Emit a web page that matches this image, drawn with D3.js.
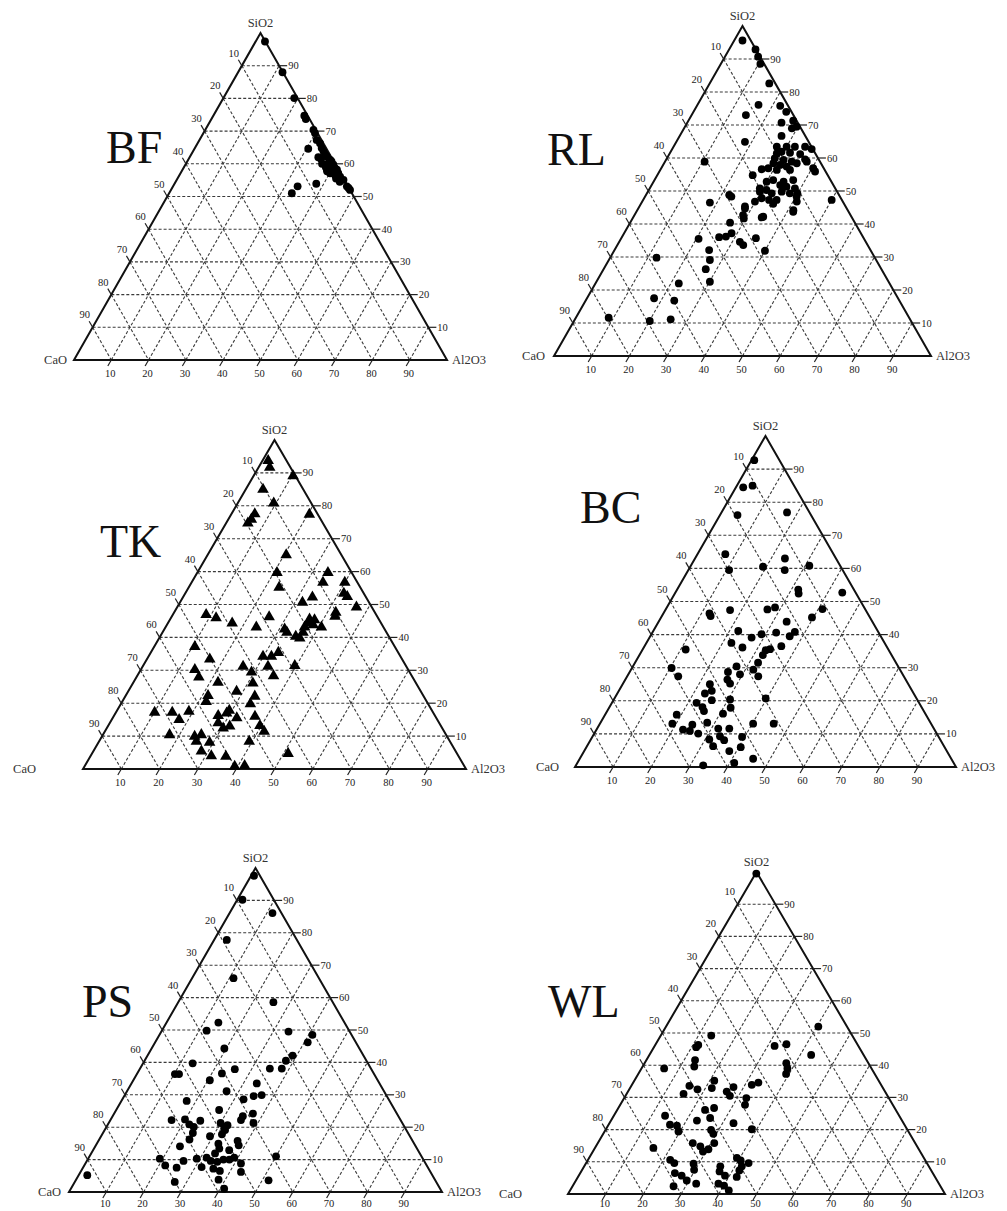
<!DOCTYPE html>
<html>
<head>
<meta charset="utf-8">
<script src="https://cdn.jsdelivr.net/npm/d3@7"></script>
<style>
body { margin: 0; background: #fff; }
svg { display: block; }
</style>
</head>
<body>
<svg width="1007" height="1211"></svg>
<script>
// each point is [SiO2, Al2O3] in %, CaO is the rest
const tickValues = [10, 20, 30, 40, 50, 60, 70, 80, 90];

const bfData = [[97.4,2.5],[88.0,11.9],[80.1,19.0],[74.7,24.4],[73.7,25.3],[70.4,29.0],[69.4,29.9],[67.3,31.4],[66.3,32.8],[64.8,34.0],[63.8,35.0],[62.8,35.9],[62.2,36.7],[61.2,38.1],[60.2,38.1],[60.7,38.7],[59.7,39.7],[59.2,39.5],[58.7,40.6],[58.2,39.1],[57.1,40.1],[57.7,39.0],[58.2,41.4],[57.1,42.3],[56.1,43.3],[55.1,44.7],[53.1,46.6],[52.0,48.0],[57.7,40.7],[56.6,41.7],[64.6,30.5],[53.9,38.0],[53.1,33.4],[51.0,32.9],[52.6,47.3],[61.5,35.5],[60.0,36.5],[59.0,38.0],[62.0,34.5],[58.5,38.5],[55.5,42.5],[54.5,44.0]];

const rlData = [[95.6,2.2],[92.9,7.0],[90.7,8.8],[88.5,10.5],[82.6,15.8],[76.1,16.2],[73.0,14.4],[75.8,22.1],[74.0,24.6],[70.7,25.0],[71.3,27.8],[69.0,28.6],[69.5,29.6],[64.9,18.2],[66.7,27.0],[58.9,10.5],[63.4,27.4],[63.4,30.0],[63.4,32.2],[63.4,34.9],[62.7,37.0],[61.4,28.4],[61.9,29.4],[61.6,31.8],[61.2,34.7],[59.6,36.8],[59.9,28.6],[59.4,31.2],[58.9,33.6],[58.4,35.2],[57.4,33.0],[57.9,31.0],[58.4,29.0],[56.9,28.4],[56.6,26.8],[54.8,25.3],[56.4,30.9],[56.4,34.4],[56.9,40.3],[55.9,41.3],[53.3,36.8],[52.8,34.5],[51.8,34.1],[53.3,31.5],[50.3,31.2],[49.8,29.7],[49.3,33.1],[49.8,35.5],[49.3,37.9],[46.8,41.0],[49.3,39.9],[47.3,50.0],[43.7,41.6],[46.8,29.9],[47.8,31.2],[47.3,33.4],[46.1,35.1],[45.3,28.0],[42.7,28.8],[41.7,29.5],[42.0,34.1],[48.8,22.1],[46.5,18.1],[40.4,26.5],[37.2,28.5],[36.2,27.5],[36.0,25.8],[34.6,32.0],[33.6,33.4],[35.5,20.6],[35.7,35.7],[31.9,40.0],[32.1,25.1],[29.1,26.8],[29.8,12.3],[26.3,27.1],[22.5,30.1],[22.0,22.1],[17.5,17.8],[16.8,23.5],[11.6,8.7],[10.6,20.1],[11.1,25.4],[58.9,37.6],[52.8,30.0],[50.8,29.2],[47.3,35.4],[44.2,41.4],[42.2,34.4],[44.7,28.3],[48.3,22.9],[48.3,40.2],[51.3,36.0],[50.8,38.5]];

const tkData = [[93.7,1.5],[91.7,2.9],[89.1,10.3],[85.0,4.5],[80.8,9.4],[77.5,6.1],[75.9,6.0],[74.7,5.7],[77.4,20.4],[65.1,20.5],[59.7,20.8],[55.2,23.6],[59.7,34.1],[56.7,34.3],[56.7,40.0],[52.2,33.8],[50.6,32.0],[53.4,41.4],[52.4,42.8],[49.2,46.8],[47.6,42.2],[46.4,42.6],[45.5,36.4],[45.3,37.8],[43.8,38.2],[44.3,36.6],[43.1,36.3],[43.1,40.7],[41.5,36.7],[39.8,36.7],[40.3,35.4],[42.5,31.4],[41.5,32.5],[46.2,25.5],[43.1,23.7],[44.3,16.8],[45.9,11.8],[46.9,8.7],[37.2,10.6],[33.4,16.4],[35.4,33.3],[34.2,32.1],[34.2,29.9],[31.2,32.7],[28.3,35.6],[31.2,26.2],[29.4,29.3],[26.1,31.3],[31.4,39.6],[30.2,14.1],[27.9,16.3],[26.3,22.1],[22.3,21.5],[20.5,21.9],[23.6,28.3],[22.1,33.8],[19.8,33.8],[17.8,29.3],[17.0,29.0],[17.5,18.9],[17.2,14.7],[15.0,17.6],[17.2,10.1],[16.2,27.2],[15.5,32.4],[16.0,36.9],[14.0,28.3],[12.4,30.4],[13.0,31.8],[13.2,39.6],[11.4,41.6],[10.4,17.4],[9.9,24.2],[8.4,25.4],[10.4,25.7],[8.1,29.0],[5.4,28.2],[4.0,31.5],[3.8,35.4],[8.4,39.2],[4.7,51.2],[0.8,39.2],[1.0,41.7]];

const bcData = [[92.7,0.7],[84.5,1.9],[85.0,4.1],[76.1,4.6],[76.9,17.2],[64.3,7.3],[59.5,10.7],[60.5,19.1],[63.0,23.6],[59.5,25.3],[60.8,31.1],[53.6,31.8],[52.4,32.5],[52.7,43.8],[47.7,41.1],[45.2,39.6],[47.6,26.7],[48.2,28.4],[47.4,17.0],[46.4,12.1],[45.6,12.8],[43.9,33.6],[41.1,22.3],[40.1,28.9],[39.1,26.8],[40.6,32.5],[39.5,36.6],[40.8,37.3],[37.5,22.3],[36.1,25.9],[35.3,32.4],[35.6,33.4],[33.8,32.4],[36.5,35.9],[35.5,11.3],[29.9,10.4],[27.4,13.4],[31.5,32.3],[29.4,32.1],[27.4,34.4],[30.4,27.2],[28.0,29.3],[28.7,25.8],[26.4,26.8],[25.2,28.1],[25.0,22.9],[23.0,24.4],[22.2,23.0],[19.4,22.2],[18.1,24.4],[16.9,25.4],[20.2,25.8],[20.4,30.5],[17.9,31.9],[16.1,30.8],[20.7,39.7],[15.8,18.8],[13.1,19.0],[13.4,28.0],[12.8,24.4],[11.3,22.7],[10.9,24.7],[10.1,27.3],[8.3,31.1],[11.6,31.8],[9.3,33.4],[8.1,35.1],[11.6,34.7],[6.3,33.1],[4.8,38.1],[6.0,40.5],[9.1,39.3],[13.1,40.2],[13.1,45.6],[2.5,45.5],[1.2,41.2],[0.5,33.4]];

const psData = [[97.6,0.8],[90.2,1.4],[86.1,11.5],[77.8,3.4],[66.0,11.1],[58.6,25.5],[52.3,13.9],[49.8,12.0],[49.5,34.1],[48.5,41.0],[46.2,40.9],[44.3,19.5],[42.1,38.9],[40.5,37.9],[38.1,38.0],[38.1,34.8],[39.7,13.3],[36.4,10.2],[36.4,11.3],[37.9,25.5],[36.6,22.7],[34.5,20.5],[33.5,33.6],[31.1,26.7],[29.6,34.7],[29.9,36.7],[28.6,32.5],[28.1,17.5],[25.3,27.6],[24.2,37.2],[23.4,34.9],[22.2,16.4],[22.4,19.9],[20.9,21.8],[20.1,23.4],[22.0,24.2],[21.3,30.0],[19.6,31.8],[17.8,32.1],[21.3,38.8],[22.2,35.0],[18.2,24.1],[16.2,24.2],[17.2,29.2],[14.1,22.7],[14.9,32.6],[13.4,33.6],[15.8,37.3],[14.4,38.3],[12.9,36.5],[11.9,33.2],[10.6,31.6],[9.6,33.2],[9.3,35.1],[10.0,36.4],[10.0,38.0],[10.6,39.0],[10.3,29.1],[7.7,31.7],[9.6,25.9],[8.2,21.7],[7.5,25.1],[10.3,19.2],[7.2,35.1],[6.5,37.2],[3.8,38.2],[1.0,41.1],[8.8,41.7],[6.2,43.0],[3.1,26.8],[5.2,2.3],[3.6,51.7],[11.0,50.0],[19.1,32.3],[20.6,32.2]];

const wlData = [[99.5,0.2],[52.0,40.4],[49.2,13.4],[46.3,11.4],[45.6,11.2],[46.0,31.8],[46.5,34.7],[43.2,42.9],[41.6,12.9],[39.6,13.7],[39.0,6.0],[40.6,37.6],[39.0,38.7],[37.3,39.2],[35.2,21.2],[32.9,21.7],[32.5,18.1],[33.6,15.4],[31.1,15.1],[31.8,26.2],[30.5,27.7],[33.2,27.3],[33.9,31.8],[34.6,33.2],[27.7,33.1],[26.7,25.4],[26.1,23.3],[22.8,22.8],[23.6,25.9],[22.0,32.9],[20.1,38.7],[24.3,13.6],[21.5,16.3],[21.2,18.3],[19.4,19.6],[19.9,28.0],[18.7,29.2],[15.8,30.9],[15.8,25.2],[14.8,27.7],[13.2,29.2],[13.9,30.3],[14.3,15.5],[10.6,21.8],[9.6,23.4],[9.4,28.6],[7.5,29.7],[6.5,25.1],[5.7,27.3],[4.2,29.4],[2.4,26.8],[3.2,32.4],[8.6,36.1],[7.0,36.7],[5.7,38.8],[11.2,39.2],[10.4,40.6],[9.6,43.1],[8.6,41.8],[7.3,41.8],[5.3,42.1],[3.2,38.3],[2.6,40.1],[1.1,42.1],[29.8,32.4]];

// triangle frames (left, right, bottom, top) and label spots
const panels = [
  { name: "BF", data: bfData, L: 74,  R: 447, B: 360,  T: 33,  nameX: 106, nameY: 163,  caoX: 67,  baseGap: 17, marker: "circle" },
  { name: "RL", data: rlData, L: 554, R: 931, B: 356,  T: 26,  nameX: 547, nameY: 165,  caoX: 545, baseGap: 17, marker: "circle" },
  { name: "TK", data: tkData, L: 83,  R: 466, B: 769,  T: 440, nameX: 100, nameY: 557,  caoX: 36,  baseGap: 17, marker: "triangle" },
  { name: "BC", data: bcData, L: 575, R: 956, B: 767,  T: 436, nameX: 580, nameY: 523,  caoX: 559, baseGap: 17, marker: "circle" },
  { name: "PS", data: psData, L: 69,  R: 442, B: 1192, T: 868, nameX: 82,  nameY: 1017, caoX: 61,  baseGap: 15, marker: "circle" },
  { name: "WL", data: wlData, L: 568, R: 945, B: 1194, T: 872, nameX: 548, nameY: 1017, caoX: 522, baseGap: 13, marker: "circle" }
];

const svg = d3.select("svg");
const serif = "'Liberation Serif', 'DejaVu Serif', serif";

panels.forEach(p => {
  const g = svg.append("g");

  // u = Al2O3 + SiO2/2 runs along the base, SiO2 runs up
  const x = d3.scaleLinear().domain([0, 100]).range([p.L, p.R]);
  const y = d3.scaleLinear().domain([0, 100]).range([p.B, p.T]);
  const pt = (s, a) => [x(a + s / 2), y(s)];
  const line = d3.line();

  // dashed grid
  const grid = [];
  tickValues.forEach(k => {
    grid.push([pt(k, 0), pt(k, 100 - k)]);       // SiO2 constant
    grid.push([pt(0, k), pt(100 - k, k)]);       // Al2O3 constant
    grid.push([pt(100 - k, 0), pt(0, 100 - k)]); // CaO constant
  });
  g.append("g").selectAll("path")
    .data(grid)
    .enter().append("path")
    .attr("d", d => line(d))
    .attr("fill", "none")
    .attr("stroke", "#3a3a3a")
    .attr("stroke-width", 1.1)
    .attr("stroke-dasharray", "3,2");

  // outline
  g.append("path")
    .attr("d", line([pt(0, 0), pt(0, 100), pt(100, 0)]) + "Z")
    .attr("fill", "none")
    .attr("stroke", "#111")
    .attr("stroke-width", 2);

  // ticks and tick labels
  const tk = g.append("g")
    .attr("font-family", serif)
    .attr("font-size", 10.5)
    .attr("fill", "#222");

  tickValues.forEach(k => {
    // right side, SiO2
    const r = pt(k, 100 - k);
    tk.append("line").attr("x1", r[0]).attr("y1", r[1]).attr("x2", r[0] + 8).attr("y2", r[1])
      .attr("stroke", "#222").attr("stroke-width", 1.2);
    tk.append("text").attr("x", r[0] + 9).attr("y", r[1] + 3.5).text(k);

    // bottom, Al2O3
    const b = pt(0, k);
    tk.append("line").attr("x1", b[0]).attr("y1", b[1]).attr("x2", b[0] - 3.5).attr("y2", b[1] + 6)
      .attr("stroke", "#222").attr("stroke-width", 1.2);
    tk.append("text").attr("x", b[0] - 1).attr("y", b[1] + p.baseGap).attr("text-anchor", "middle").text(k);

    // left side, CaO
    const l = pt(100 - k, 0);
    tk.append("line").attr("x1", l[0]).attr("y1", l[1]).attr("x2", l[0] - 3.5).attr("y2", l[1] - 6)
      .attr("stroke", "#222").attr("stroke-width", 1.2);
    tk.append("text").attr("x", l[0] - 8).attr("y", l[1] - 9).attr("text-anchor", "middle").text(k);
  });

  // corner titles
  const ttl = g.append("g")
    .attr("font-family", serif)
    .attr("font-size", 12.5)
    .attr("fill", "#333");
  const top = pt(100, 0), left = pt(0, 0), right = pt(0, 100);
  ttl.append("text").attr("x", top[0]).attr("y", top[1] - 6).attr("text-anchor", "middle").text("SiO2");
  ttl.append("text").attr("x", p.caoX).attr("y", left[1] + 4).attr("text-anchor", "end").text("CaO");
  ttl.append("text").attr("x", right[0] + 5).attr("y", right[1] + 4).text("Al2O3");

  // panel name
  g.append("text")
    .attr("x", p.nameX)
    .attr("y", p.nameY)
    .attr("font-family", serif)
    .attr("font-size", 46)
    .attr("fill", "#111")
    .text(p.name);

  // samples
  const sym = d3.symbol()
    .type(p.marker === "triangle" ? d3.symbolTriangle : d3.symbolCircle)
    .size(p.marker === "triangle" ? 58 : 48);
  g.append("g").selectAll("path")
    .data(p.data)
    .enter().append("path")
    .attr("transform", d => "translate(" + pt(d[0], d[1]) + ")")
    .attr("d", sym)
    .attr("fill", "#000");
});
</script>
</body>
</html>
